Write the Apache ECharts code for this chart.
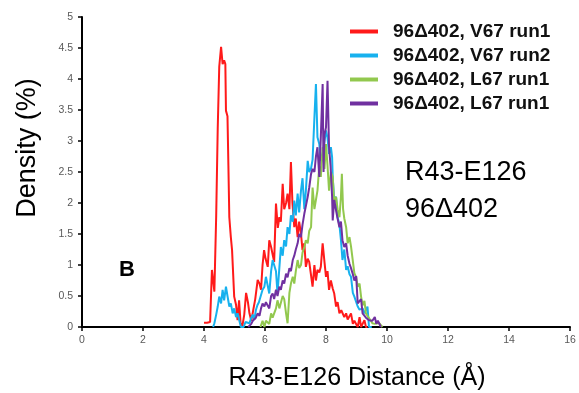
<!DOCTYPE html>
<html><head><meta charset="utf-8">
<script src="https://cdn.jsdelivr.net/npm/echarts@6/dist/echarts.min.js"></script>
<style>html,body{margin:0;padding:0;background:#fff}#c{width:579px;height:393px}</style>
</head><body><div id="c"></div>
<script>
var seriesNames = ['96\u0394402, V67 run1','96\u0394402, V67 run2','96\u0394402, L67 run1','96\u0394402, L67 run1 '];
var xTicks = [0,2,4,6,8,10,12,14,16];
var yTicks = [0,0.5,1,1.5,2,2.5,3,3.5,4,4.5,5];

var redX = [4.00,4.10,4.20,4.26,4.30,4.34,4.40,4.45,4.50,4.56,4.61,4.66,4.70,4.72,4.77,4.80,4.83,4.88,4.92,4.99,5.05,5.10,5.15,5.20,5.26,5.32,5.38,5.44,5.49,5.55,5.60,5.68,5.76,5.82,5.87,5.92,5.97,6.02,6.09,6.14,6.20,6.25,6.30,6.36,6.42,6.47,6.52,6.58,6.63,6.69,6.74,6.80,6.85,6.90,6.96,7.01,7.07,7.12,7.18,7.23,7.29,7.34,7.40,7.45,7.51,7.56,7.62,7.67,7.72,7.78,7.83,7.89,7.95,8.00,8.05,8.10,8.16,8.22,8.27,8.33,8.38,8.44,8.50,8.60,8.66,8.71,8.77,8.82,8.88,8.93,8.99,9.04,9.10,9.15,9.20,9.26,9.31,9.36];
var redY = [0.07,0.07,0.08,0.92,0.75,0.57,1.80,3.20,4.20,4.52,4.24,4.30,4.24,3.49,3.40,2.60,1.77,1.45,1.24,0.49,0.36,0.11,0.43,0.06,0.02,0.20,0.55,0.40,0.22,0.10,0.07,0.45,0.76,0.70,0.60,1.00,1.24,1.10,0.97,1.40,1.29,1.26,1.05,1.99,1.60,1.77,1.70,2.31,1.90,2.00,2.15,1.90,2.66,2.00,1.61,1.75,1.45,1.70,1.50,1.24,1.35,0.97,1.10,1.05,1.08,0.65,1.00,0.75,0.92,0.88,0.97,1.35,1.05,0.81,0.90,0.60,0.75,0.62,0.54,0.33,0.40,0.22,0.27,0.16,0.22,0.12,0.10,0.22,0.05,0.10,0.08,0.00,0.16,0.00,0.05,0.11,0.00,0.00];

var blueX = [4.30,4.34,4.40,4.45,4.50,4.56,4.61,4.66,4.72,4.77,4.83,4.88,4.94,4.99,5.05,5.10,5.16,5.21,5.26,5.30,5.36,5.42,5.49,5.55,5.60,5.65,5.70,5.75,5.80,5.86,5.92,5.98,6.03,6.09,6.14,6.20,6.25,6.30,6.36,6.41,6.47,6.52,6.58,6.63,6.69,6.74,6.80,6.85,6.91,6.96,7.01,7.07,7.12,7.18,7.23,7.29,7.34,7.40,7.45,7.51,7.56,7.62,7.67,7.72,7.78,7.83,7.89,7.95,8.00,8.05,8.10,8.16,8.20,8.22,8.27,8.33,8.38,8.44,8.49,8.54,8.60,8.66,8.71,8.77,8.82,8.88,8.93,8.99,9.04,9.10,9.15,9.20,9.26,9.31,9.36,9.41,9.50];
var blueY = [0.00,0.06,0.20,0.33,0.49,0.38,0.60,0.43,0.65,0.50,0.33,0.38,0.22,0.30,0.16,0.22,0.10,0.00,0.02,0.00,0.08,0.10,0.06,0.15,0.20,0.12,0.27,0.35,0.40,0.50,0.60,0.65,0.81,0.81,0.54,0.90,1.08,1.00,0.90,0.54,0.95,1.29,1.15,1.40,1.30,1.61,1.50,1.80,1.70,2.04,1.80,2.15,1.85,2.20,2.40,1.90,2.20,2.68,2.50,2.56,2.70,3.38,3.92,3.06,2.95,2.68,2.79,3.00,3.17,3.05,2.79,2.90,2.74,2.42,2.04,2.10,1.77,1.65,1.40,1.08,1.25,0.92,0.98,0.85,0.81,0.55,0.49,0.52,0.33,0.28,0.25,0.30,0.22,0.25,0.33,0.00,0.00];

var greenX = [5.85,5.92,5.98,6.03,6.09,6.14,6.20,6.25,6.30,6.36,6.41,6.47,6.52,6.58,6.63,6.69,6.74,6.80,6.85,6.91,6.96,7.01,7.07,7.12,7.18,7.23,7.29,7.34,7.40,7.45,7.51,7.56,7.62,7.67,7.72,7.78,7.83,7.89,7.95,8.00,8.05,8.10,8.16,8.22,8.27,8.33,8.38,8.44,8.49,8.52,8.56,8.60,8.66,8.71,8.77,8.82,8.87,8.93,8.99,9.04,9.10,9.15,9.20,9.26,9.31,9.36,9.41,9.47,9.52,9.60,9.68,9.75,9.85];
var greenY = [0.00,0.10,0.00,0.10,0.10,0.05,0.22,0.15,0.12,0.30,0.43,0.30,0.33,0.50,0.45,0.22,0.06,0.55,0.70,0.81,0.70,0.90,1.08,0.95,1.00,1.20,1.29,1.40,1.35,1.55,1.61,2.25,1.90,2.05,2.20,2.60,2.42,2.90,2.55,2.95,2.60,2.20,2.50,2.42,2.00,2.10,1.90,1.77,2.10,2.47,1.90,1.75,1.61,1.35,1.45,1.30,1.29,0.87,0.80,0.65,0.70,0.49,0.35,0.42,0.22,0.18,0.15,0.10,0.06,0.05,0.06,0.06,0.00];

var purpleX = [5.45,5.55,5.60,5.66,5.70,5.76,5.82,5.87,5.92,5.98,6.03,6.09,6.14,6.20,6.25,6.30,6.36,6.41,6.47,6.52,6.58,6.63,6.69,6.74,6.80,6.85,6.91,6.96,7.01,7.07,7.12,7.18,7.23,7.29,7.34,7.40,7.45,7.51,7.56,7.62,7.67,7.72,7.78,7.83,7.89,7.92,7.95,8.00,8.05,8.10,8.15,8.20,8.22,8.27,8.33,8.38,8.44,8.49,8.54,8.60,8.66,8.71,8.77,8.82,8.88,8.93,8.99,9.04,9.10,9.15,9.20,9.26,9.31,9.36,9.41,9.47,9.52,9.60,9.65,9.70,9.80];
var purpleY = [0.00,0.05,0.10,0.08,0.15,0.22,0.18,0.30,0.38,0.33,0.40,0.43,0.30,0.50,0.54,0.45,0.60,0.50,0.65,0.60,0.75,0.70,0.86,0.80,0.95,0.90,1.08,1.15,1.25,1.35,1.50,1.45,1.65,1.83,1.95,2.10,2.25,2.47,2.55,2.50,2.75,2.90,2.42,3.06,3.92,2.50,3.10,3.22,3.97,2.90,2.60,2.10,1.72,2.05,1.88,1.75,1.61,1.70,1.40,1.29,1.35,1.15,1.02,0.95,0.85,0.75,0.82,0.38,0.40,0.45,0.22,0.25,0.15,0.12,0.11,0.08,0.10,0.16,0.05,0.10,0.00];

var colors = ['#FF1A1A','#17B1EE','#92C84E','#7030A0'];
var allX = [redX, blueX, greenX, purpleX];
var allY = [redY, blueY, greenY, purpleY];

function pairs(xs, ys){ return xs.map(function(x,i){ return [x, ys[i]]; }); }

var series = seriesNames.map(function(n, i){
  return {
    name: n, type: 'line', showSymbol: false, symbol: 'none',
    data: pairs(allX[i], allY[i]),
    lineStyle: {color: colors[i], width: 2},
    itemStyle: {color: colors[i]},
    animation: false
  };
});

var chart = echarts.init(document.getElementById('c'), null, {renderer: 'canvas'});
chart.setOption({
  animation: false,
  backgroundColor: '#ffffff',
  color: colors,
  grid: {left: 82, right: 9, top: 17, bottom: 66, containLabel: false},
  legend: {
    orient: 'vertical', left: 345, top: 17, itemWidth: 28, itemHeight: 4, itemGap: 5,
    icon: 'rect',
    data: seriesNames.map(function(n, i){ return {name: n, icon: 'rect', itemStyle: {color: colors[i]}}; }),
    textStyle: {fontFamily: 'Liberation Sans, Arial, sans-serif', fontWeight: 'bold', fontSize: 19, color: '#111', padding: [0,0,0,10]},
    selectedMode: false
  },
  xAxis: {
    type: 'value', min: 0, max: 16, interval: 2,
    axisLine: {show: true, lineStyle: {color: '#000', width: 2}},
    axisTick: {show: true, length: 4, lineStyle: {color: '#000', width: 1.5}},
    splitLine: {show: false},
    axisLabel: {color: '#595959', fontSize: 10.5, margin: 8, fontFamily: 'Liberation Sans, Arial, sans-serif',
      formatter: function(v){ return xTicks.indexOf(v) >= 0 ? String(v) : ''; }}
  },
  yAxis: {
    type: 'value', min: 0, max: 5, interval: 0.5,
    axisLine: {show: true, lineStyle: {color: '#000', width: 2}},
    axisTick: {show: true, length: 4, lineStyle: {color: '#000', width: 1.5}},
    splitLine: {show: false},
    axisLabel: {color: '#595959', fontSize: 10.5, margin: 9, fontFamily: 'Liberation Sans, Arial, sans-serif',
      formatter: function(v){ return yTicks.indexOf(v) >= 0 ? String(v) : ''; }}
  },
  graphic: [
    {type: 'text', rotation: Math.PI/2, x: 28, y: 148,
     style: {text: 'Density (%)', font: '27px "Liberation Sans", Arial, sans-serif', fill: '#000', textAlign: 'center', textVerticalAlign: 'middle'}},
    {type: 'text', x: 357, y: 378,
     style: {text: 'R43-E126 Distance (\u00C5)', font: '25px "Liberation Sans", Arial, sans-serif', fill: '#000', textAlign: 'center', textVerticalAlign: 'middle'}},
    {type: 'text', x: 405, y: 173,
     style: {text: 'R43-E126', font: '27px "Liberation Sans", Arial, sans-serif', fill: '#000', textAlign: 'left', textVerticalAlign: 'middle'}},
    {type: 'text', x: 405, y: 210,
     style: {text: '96\u0394402', font: '27px "Liberation Sans", Arial, sans-serif', fill: '#000', textAlign: 'left', textVerticalAlign: 'middle'}},
    {type: 'text', x: 127, y: 270,
     style: {text: 'B', font: 'bold 22px "Liberation Sans", Arial, sans-serif', fill: '#000', textAlign: 'center', textVerticalAlign: 'middle'}}
  ],
  series: series
});
</script></body></html>
